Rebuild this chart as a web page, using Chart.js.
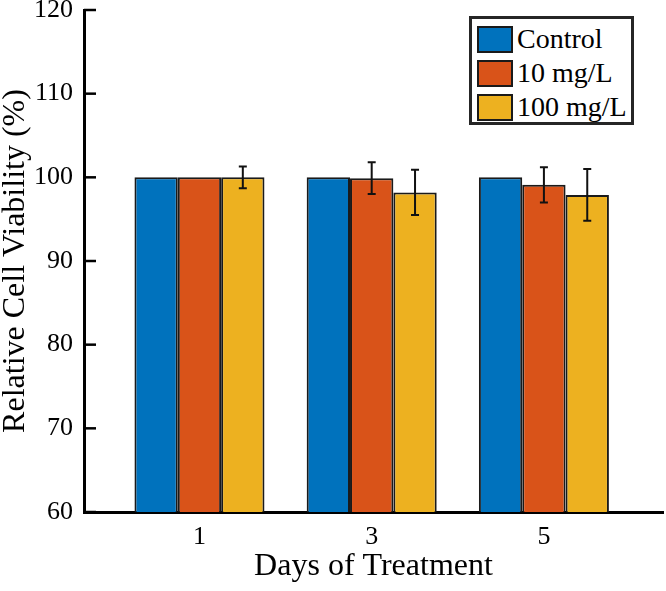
<!DOCTYPE html>
<html lang="en">
<head>
    <meta charset="UTF-8">
    <title>Relative Cell Viability</title>
    <script src="https://cdn.jsdelivr.net/npm/chart.js"></script>
    <style>
        body {
            margin: 0;
            padding: 0;
            background-color: white;
        }
        .wrap {
            position: relative;
            width: 666px;
            height: 591px;
        }
        .legend {
            position: absolute;
            left: 469px;
            top: 16px;
            width: 165px;
            height: 109px;
            box-sizing: border-box;
            border: 3px solid #262626;
            background: white;
            padding: 3px 0 0 5px;
            font-family: 'Liberation Serif', 'Times New Roman', serif;
            font-size: 28px;
            color: black;
        }
        .legend-item {
            display: flex;
            align-items: center;
            height: 34px;
        }
        .legend-item span.box {
            width: 36px;
            height: 27px;
            box-sizing: border-box;
            border: 2px solid #1a1a1a;
            margin-right: 4px;
        }
    </style>
</head>
<body>
    <div class="wrap">
        <canvas id="viabilityChart" width="666" height="591"></canvas>
        <div class="legend" id="legend"></div>
    </div>

    <script>
        // data
        const days = [1, 3, 5];
        const seriesNames = ['Control', '10 mg/L', '100 mg/L'];
        const control = [100, 100, 100];
        const controlErr = [0, 0, 0];
        const low = [100, 99.9, 99.1];
        const lowErr = [0, 1.9, 2.1];
        const high = [100, 98.2, 97.9];
        const highErr = [1.3, 2.7, 3.1];
        const yTicks = [60, 70, 80, 90, 100, 110, 120];

        const colors = ['#0072BD', '#D95319', '#EDB120'];
        const serif = "'Liberation Serif', 'Times New Roman', serif";

        const toPoints = vals => days.map((d, i) => ({ x: d, y: vals[i] }));

        // Error bars
        const errorBars = {
            id: 'errorBars',
            afterDatasetsDraw(chart) {
                const ctx = chart.ctx;
                const y = chart.scales.y;
                ctx.save();
                ctx.strokeStyle = '#111';
                ctx.lineWidth = 2;
                chart.data.datasets.forEach((ds, i) => {
                    const meta = chart.getDatasetMeta(i);
                    meta.data.forEach((bar, j) => {
                        const err = ds.errors[j];
                        if (!err) return;
                        const v = ds.data[j].y;
                        const top = y.getPixelForValue(v + err);
                        const bot = y.getPixelForValue(v - err);
                        ctx.beginPath();
                        ctx.moveTo(bar.x, top);
                        ctx.lineTo(bar.x, bot);
                        ctx.moveTo(bar.x - 4, top);
                        ctx.lineTo(bar.x + 4, top);
                        ctx.moveTo(bar.x - 4, bot);
                        ctx.lineTo(bar.x + 4, bot);
                        ctx.stroke();
                    });
                });
                ctx.restore();
            }
        };

        // Inward tick marks on the y axis
        const innerTicks = {
            id: 'innerTicks',
            afterDraw(chart) {
                const ctx = chart.ctx;
                const y = chart.scales.y;
                const left = chart.chartArea.left;
                ctx.save();
                ctx.strokeStyle = '#000';
                ctx.lineWidth = 2.5;
                y.ticks.forEach(t => {
                    const py = y.getPixelForValue(t.value);
                    ctx.beginPath();
                    ctx.moveTo(left, py);
                    ctx.lineTo(left + 12, py);
                    ctx.stroke();
                });
                ctx.restore();
            }
        };

        const chart = new Chart(document.getElementById('viabilityChart'), {
            type: 'bar',
            data: {
                datasets: [
                    { label: seriesNames[0], data: toPoints(control), errors: controlErr, backgroundColor: colors[0] },
                    { label: seriesNames[1], data: toPoints(low), errors: lowErr, backgroundColor: colors[1] },
                    { label: seriesNames[2], data: toPoints(high), errors: highErr, backgroundColor: colors[2] }
                ]
            },
            options: {
                responsive: false,
                animation: false,
                datasets: {
                    bar: {
                        borderColor: '#1a1a1a',
                        borderWidth: 2,
                        borderSkipped: false,
                        categoryPercentage: 0.755,
                        barPercentage: 1
                    }
                },
                layout: {
                    padding: { top: 10, right: 3, left: 0, bottom: 0 }
                },
                plugins: {
                    legend: { display: false },
                    tooltip: { enabled: false }
                },
                scales: {
                    x: {
                        type: 'linear',
                        offset: false,
                        min: -0.341,
                        max: 6.383,
                        afterBuildTicks: s => { s.ticks = days.map(d => ({ value: d })); },
                        afterFit: s => { s.height = 79; },
                        grid: { display: false, drawTicks: false },
                        border: { display: true, color: '#000', width: 3 },
                        ticks: {
                            color: '#000',
                            padding: 10,
                            font: { family: serif, size: 26 }
                        },
                        title: {
                            display: true,
                            text: 'Days of Treatment',
                            color: '#000',
                            padding: { bottom: 5 },
                            font: { family: serif, size: 32 }
                        }
                    },
                    y: {
                        min: 60,
                        max: 120,
                        afterBuildTicks: s => { s.ticks = yTicks.map(v => ({ value: v })); },
                        afterFit: s => {
                            s.width = 84;
                            s.paddingTop = 0;
                            s.paddingBottom = 0;
                        },
                        grid: { display: false, drawTicks: false },
                        border: { display: true, color: '#000', width: 3 },
                        ticks: {
                            color: '#000',
                            padding: 11,
                            font: { family: serif, size: 26 }
                        },
                        title: {
                            display: true,
                            text: 'Relative Cell Viability (%)',
                            color: '#000',
                            padding: { top: 0 },
                            font: { family: serif, size: 32, lineHeight: 0.95 }
                        }
                    }
                }
            },
            plugins: [errorBars, innerTicks]
        });

        // legend box
        const legend = document.getElementById('legend');
        chart.data.datasets.forEach(ds => {
            const item = document.createElement('div');
            item.className = 'legend-item';
            const box = document.createElement('span');
            box.className = 'box';
            box.style.background = ds.backgroundColor;
            const label = document.createElement('span');
            label.textContent = ds.label;
            item.appendChild(box);
            item.appendChild(label);
            legend.appendChild(item);
        });
    </script>
</body>
</html>
